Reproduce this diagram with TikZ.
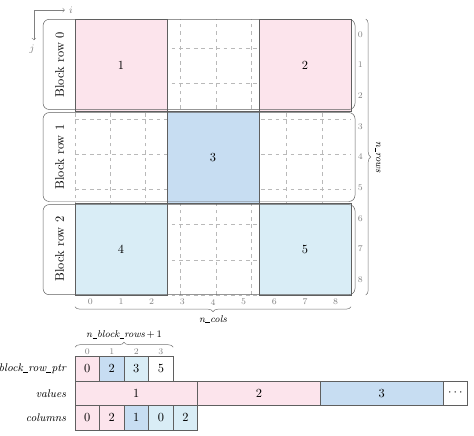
\documentclass[tikz,border=0pt]{standalone}
\usetikzlibrary{decorations.pathreplacing}
\definecolor{blkpink}{RGB}{252,228,236}
\definecolor{blkblue}{RGB}{199,221,242}
\definecolor{blklight}{RGB}{217,237,246}
\definecolor{blkline}{RGB}{95,95,95}
\newcommand{\usc}{\kern0.3pt\rule[-0.6pt]{0.42em}{0.4pt}\kern0.3pt}
\tikzset{
    blk/.style={draw=blkline},
    idx/.style={text=gray,font=\scriptsize},
    lbl/.style={font=\small\itshape,anchor=east},
    brc/.style={decorate,decoration={brace,amplitude=4pt},draw=gray!90!black},
    rowbox/.style={draw=blkline,rounded corners=5pt},
    cell/.style={draw=blkline,minimum width=0.696cm,minimum height=0.696cm,
        inner sep=0pt,outer sep=0pt},
}
\begin{document}
\begin{tikzpicture}[x=0.87cm,y=0.87cm]
            \useasboundingbox (-2.445,-4.565) rectangle (13.01,9.62);
            % axes
            \draw[gray,->]
                (-1.34,9.29) -- (-0.33,9.29) node[right,font=\footnotesize] (axi) {$i$};
            \draw[gray,->]
                (-1.34,9.29) -- (-1.34,8.31) node[below,xshift=-1.5pt,font=\footnotesize] (axj) {$j$};
            % matrix
            \draw[dashed,gray!55] (0,0) grid (9,9);
            \filldraw[blk,fill=blkpink]  (0,6) rectangle (3,9);
            \filldraw[blk,fill=blkpink]  (6,6) rectangle (9,9);
            \filldraw[blk,fill=blkblue]  (3,3) rectangle (6,6);
            \filldraw[blk,fill=blklight] (0,0) rectangle (3,3);
            \filldraw[blk,fill=blklight] (6,0) rectangle (9,3);
            \node (b1) at (1.5,7.5) {1};
            \node (b2) at (7.5,7.5) {2};
            \node (b3) at (4.5,4.5) {3};
            \node (b4) at (1.5,1.5) {4};
            \node (b5) at (7.5,1.5) {5};
            % block rows
            \draw[rowbox] (-1.04,6.05) rectangle (9.13,8.99);
            \draw[rowbox] (-1.04,3.05) rectangle (9.13,5.95);
            \draw[rowbox] (-1.04,0.01) rectangle (9.13,2.95);
            \node[rotate=90] (br0) at (-0.5,7.5) {Block row 0};
            \node[rotate=90] (br1) at (-0.5,4.5) {Block row 1};
            \node[rotate=90] (br2) at (-0.5,1.5) {Block row 2};
            % indices
            \foreach \c in {0,...,8}
                \node[idx] (col\c) at (\c+0.5,-0.23) {\c};
            \foreach \r in {0,...,8}
                \node[idx] (row\r) at (9.3,8.5-\r) {\r};
            \draw[brc] (9,-0.38) -- (0,-0.38);
            \node[font=\footnotesize\itshape] (ncols) at (4.5,-0.78) {n\usc cols};
            \draw[brc] (9.48,9) -- (9.48,0);
            \node[font=\footnotesize\itshape,rotate=-90] (nrows) at (9.88,4.5) {n\usc rows};
            % arrays
            \foreach \k in {0,...,3}
                \node[idx] (pidx\k) at (0.4+0.8*\k,-1.85) {\k};
            \draw[brc] (0,-1.7) -- (3.2,-1.7);
            \node[font=\footnotesize] (nbr) at (1.6,-1.3) {\textit{n\usc block\usc rows}\,$+\,1$};
            \foreach \v/\f [count=\k from 0] in {0/blkpink,2/blkblue,3/blklight,5/white}
                \node[cell,fill=\f] (ptr\k) at (0.4+0.8*\k,-2.4) {\v};
            \node[cell,minimum width=3.48cm,fill=blkpink] (val1) at (2,-3.2) {1};
            \node[cell,minimum width=3.48cm,fill=blkpink] (val2) at (6,-3.2) {2};
            \node[cell,minimum width=3.48cm,fill=blkblue] (val3) at (10,-3.2) {3};
            \node[cell,fill=white] (vdots) at (12.4,-3.2) {$\cdots$};
            \foreach \v/\f [count=\k from 0] in {0/blkpink,2/blkpink,1/blkblue,0/blklight,2/blklight}
                \node[cell,fill=\f] (cols\k) at (0.4+0.8*\k,-4.0) {\v};
            \node[lbl] (lptr) at (-0.15,-2.4) {block\usc row\usc ptr};
            \node[lbl] (lval) at (-0.15,-3.2) {values};
            \node[lbl] (lcol) at (-0.15,-4.0) {columns};
\end{tikzpicture}
\end{document}
